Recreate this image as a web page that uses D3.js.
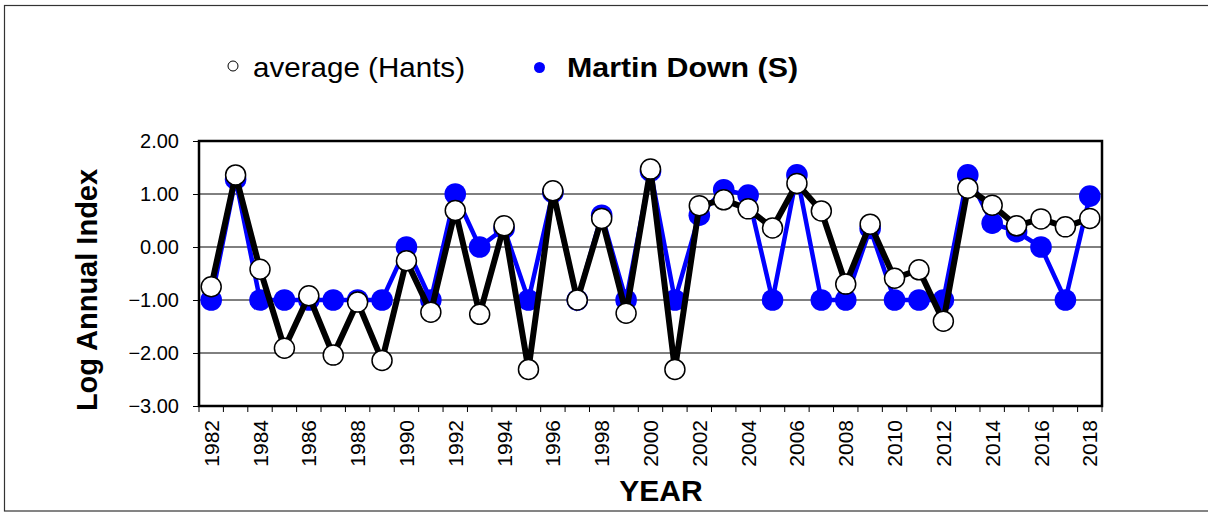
<!DOCTYPE html>
<html>
<head>
<meta charset="utf-8">
<script src="https://cdn.jsdelivr.net/npm/d3@7"></script>
<style>
  html, body { margin: 0; padding: 0; background: #fff; }
  svg { display: block; font-family: "Liberation Sans", Arial, sans-serif; }
</style>
</head>
<body>
<svg id="chart" width="1208" height="512"></svg>
<script>
const years = [1982,1983,1984,1985,1986,1987,1988,1989,1990,1991,1992,1993,1994,1995,1996,1997,1998,1999,2000,2001,2002,2003,2004,2005,2006,2007,2008,2009,2010,2011,2012,2013,2014,2015,2016,2017,2018];
const averageHants = [-0.75,1.36,-0.42,-1.91,-0.92,-2.04,-1.04,-2.14,-0.26,-1.23,0.69,-1.27,0.40,-2.31,1.06,-1.00,0.54,-1.25,1.47,-2.31,0.78,0.89,0.72,0.36,1.20,0.68,-0.70,0.43,-0.59,-0.43,-1.40,1.11,0.79,0.40,0.53,0.38,0.54];
const martinDown = [-1,1.28,-1,-1,-1,-1,-1,-1,0,-1,1.0,0,0.35,-1,1.03,-1,0.6,-1,1.43,-1,0.6,1.08,0.98,-1,1.36,-1,-1,0.35,-1,-1,-1,1.36,0.45,0.29,0,-1,0.96];
const yTicks = [2,1,0,-1,-2,-3];
const seriesNames = ["average (Hants)", "Martin Down (S)"];

const svg = d3.select("#chart");

// outer frame
svg.append("rect").attr("x",4.5).attr("y",5.5).attr("width",1220).attr("height",505.5)
  .attr("fill","none").attr("stroke","#333").attr("stroke-width",1.2);

const plot = {left:199, right:1102, top:141, bottom:406};
const x = d3.scaleBand().domain(years).range([plot.left, plot.right]).padding(0);
const y = d3.scaleLinear().domain([-3,2]).range([plot.bottom, plot.top]);
const cx = d => x(d) + x.bandwidth()/2;

// gridlines
svg.append("g").selectAll("line").data(yTicks.filter(v => v>-3 && v<2)).join("line")
  .attr("x1",plot.left).attr("x2",plot.right)
  .attr("y1",d=>y(d)).attr("y2",d=>y(d))
  .attr("stroke","#000").attr("stroke-width",1);

// y axis
const yAxis = d3.axisLeft(y).tickValues(yTicks).tickFormat(d3.format(".2f")).tickSize(6).tickPadding(14);
const gy = svg.append("g").attr("transform",`translate(${plot.left},0)`).call(yAxis);
gy.select(".domain").remove();
gy.selectAll(".tick line").attr("stroke","#000");
gy.selectAll("text").attr("font-size",20).attr("fill","#000").attr("font-family","Liberation Sans, Arial, sans-serif");

// x axis (ticks at band boundaries)
const xAxis = d3.axisBottom(x).tickSize(0).tickFormat(d => d%2===0 ? d : "");
const gx = svg.append("g").attr("transform",`translate(0,${plot.bottom})`).call(xAxis);
gx.select(".domain").remove();
gx.selectAll("text")
  .attr("font-size",21).attr("fill","#000").attr("font-family","Liberation Sans, Arial, sans-serif")
  .attr("text-anchor","end")
  .attr("transform","rotate(-90)")
  .attr("x",-14).attr("y",0).attr("dy","0.36em");
const boundaries = years.map(d => x(d)).concat([plot.right]);
svg.append("g").selectAll("line").data(boundaries).join("line")
  .attr("x1",d=>d).attr("x2",d=>d).attr("y1",plot.bottom).attr("y2",plot.bottom+6)
  .attr("stroke","#000").attr("stroke-width",1);

// plot border
svg.append("rect").attr("x",plot.left).attr("y",plot.top)
  .attr("width",plot.right-plot.left).attr("height",plot.bottom-plot.top)
  .attr("fill","none").attr("stroke","#000").attr("stroke-width",2.5);

// series
const line = d3.line().x((d,i)=>cx(years[i])).y(d=>y(d));
svg.append("path").datum(martinDown).attr("d",line)
  .attr("fill","none").attr("stroke","#0000ff").attr("stroke-width",4.5).attr("stroke-linejoin","miter");
svg.append("g").selectAll("circle").data(martinDown).join("circle")
  .attr("cx",(d,i)=>cx(years[i])).attr("cy",d=>y(d)).attr("r",10.8).attr("fill","#0000ff");

svg.append("path").datum(averageHants).attr("d",line)
  .attr("fill","none").attr("stroke","#000").attr("stroke-width",6).attr("stroke-linejoin","miter");
svg.append("g").selectAll("circle").data(averageHants).join("circle")
  .attr("cx",(d,i)=>cx(years[i])).attr("cy",d=>y(d)).attr("r",10).attr("fill","#fff")
  .attr("stroke","#000").attr("stroke-width",1.5);

// axis titles
svg.append("text").attr("transform","translate(97,290) rotate(-90)")
  .attr("text-anchor","middle").attr("font-size",29).attr("font-weight","bold").text("Log Annual Index");
svg.append("text").attr("x",661).attr("y",501).attr("text-anchor","middle")
  .attr("font-size",30).attr("font-weight","bold").text("YEAR");

// legend
svg.append("circle").attr("cx",233).attr("cy",66).attr("r",5).attr("fill","#fff").attr("stroke","#000").attr("stroke-width",1);
svg.append("text").attr("x",253).attr("y",77).attr("font-size",28.5)
  .attr("textLength",212).attr("lengthAdjust","spacingAndGlyphs").text(seriesNames[0]);
svg.append("circle").attr("cx",539.5).attr("cy",67.5).attr("r",5.5).attr("fill","#0000ff");
svg.append("text").attr("x",567).attr("y",77).attr("font-size",28.5).attr("font-weight","bold")
  .attr("textLength",231).attr("lengthAdjust","spacingAndGlyphs").text(seriesNames[1]);
</script>
</body>
</html>
